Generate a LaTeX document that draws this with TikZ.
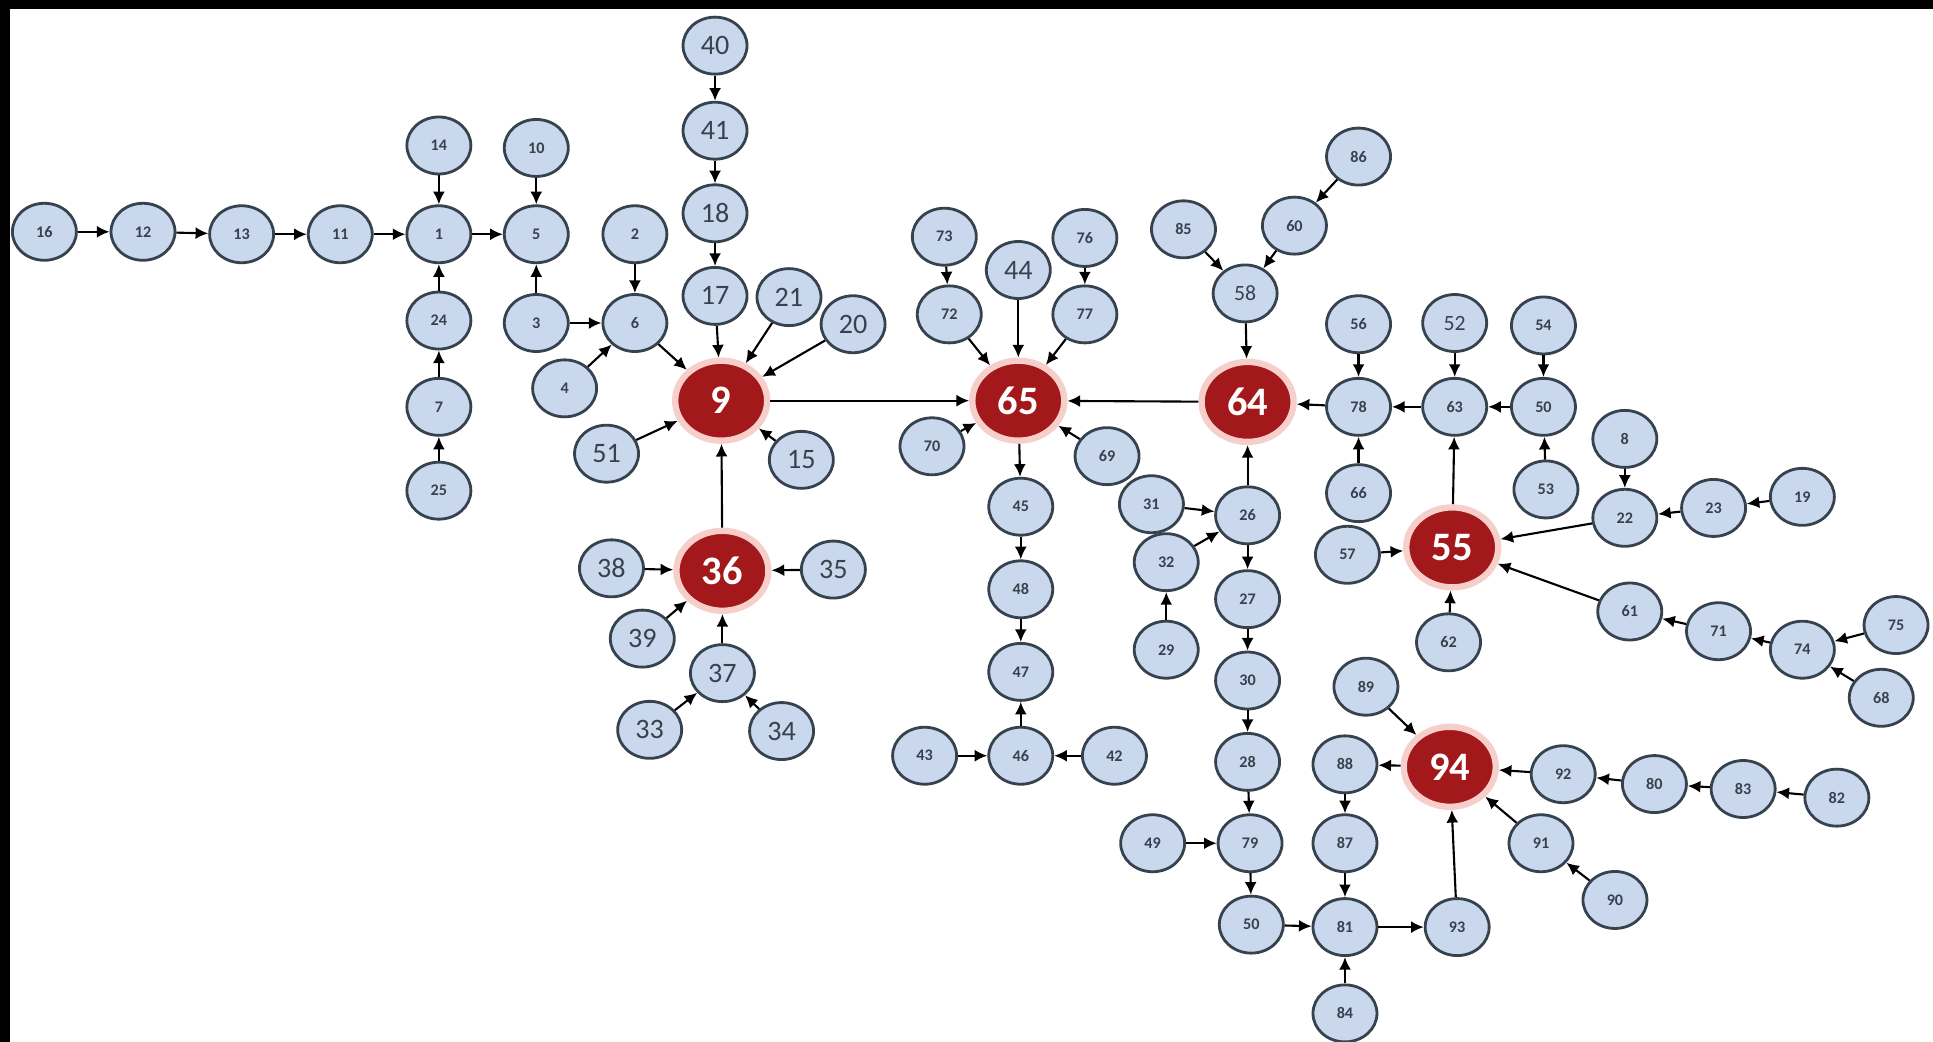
\documentclass[tikz,border=0pt]{standalone}
\usepackage{fontspec}
\setmainfont{Carlito}
\usetikzlibrary{arrows.meta,shapes.geometric}

\definecolor{nodeblue}{HTML}{C9D8EC}
\definecolor{nodeedge}{HTML}{36434F}
\definecolor{hubred}{HTML}{A3191B}
\definecolor{hubrim}{HTML}{F6CFCB}

\begin{document}
\begin{tikzpicture}[x=0.012328cm, y=-0.012328cm,
    >={Latex[length=3.6pt,width=3.4pt]},
    vtx/.style={ellipse, draw=nodeedge, fill=nodeblue, line width=0.8pt,
        minimum width=0.64cm, minimum height=0.57cm, inner sep=0pt,
        text=nodeedge, font=\fontsize{4.6}{5}\selectfont\bfseries},
    vtxbig/.style={vtx, font=\fontsize{8}{9}\selectfont},
    vtxmid/.style={vtx, font=\fontsize{6.2}{7}\selectfont},
    hub/.style={ellipse, fill=hubred, draw=hubrim, line width=1.8pt,
        minimum width=0.92cm, minimum height=0.8cm, inner sep=0pt,
        text=white, font=\fontsize{11.5}{12}\selectfont\bfseries},
    link/.style={->, line width=0.6pt}]
    \useasboundingbox (0,0) rectangle (1568,845);
    \fill (0,0) rectangle (1568,7.5);
    \fill (0,0) rectangle (8,845);

    % left branch
    \node[vtx] (n16) at (36,188) {16};
    \node[vtx] (n12) at (116,188) {12};
    \node[vtx] (n13) at (196,190) {13};
    \node[vtx] (n11) at (276,190) {11};
    \node[vtx] (n1) at (356,190) {1};
    \node[vtx] (n14) at (356,118) {14};
    \node[vtx] (n24) at (356,260) {24};
    \node[vtx] (n7) at (356,330) {7};
    \node[vtx] (n25) at (356,398) {25};
    \node[vtx] (n5) at (435,190) {5};
    \node[vtx] (n10) at (435,120) {10};
    \node[vtx] (n3) at (435,262) {3};
    \node[vtx] (n2) at (515,190) {2};
    \node[vtx] (n6) at (515,262) {6};
    \node[vtx] (n4) at (458,315) {4};
    \node[vtxbig] (n51) at (492,368) {51};

    % hub 9 and hub 36
    \node[hub] (n9) at (585,325) {9};
    \node[vtxbig] (n40) at (580,37) {40};
    \node[vtxbig] (n41) at (580,106) {41};
    \node[vtxbig] (n18) at (580,173) {18};
    \node[vtxbig] (n17) at (580,240) {17};
    \node[vtxbig] (n21) at (640,241) {21};
    \node[vtxbig] (n20) at (692,263) {20};
    \node[vtxbig] (n15) at (650,373) {15};
    \node[hub] (n36) at (586,463) {36};
    \node[vtxbig] (n38) at (496,461) {38};
    \node[vtxbig] (n35) at (676,462) {35};
    \node[vtxbig] (n39) at (521,518) {39};
    \node[vtxbig] (n37) at (586,546) {37};
    \node[vtxbig] (n33) at (527,592) {33};
    \node[vtxbig] (n34) at (634,593) {34};

    % hub 65
    \node[hub] (n65) at (826,325) {65};
    \node[vtx] (n73) at (766,192) {73};
    \node[vtx] (n72) at (770,255) {72};
    \node[vtxbig] (n44) at (826,219) {44};
    \node[vtx] (n76) at (880,193) {76};
    \node[vtx] (n77) at (880,255) {77};
    \node[vtx] (n70) at (756,362) {70};
    \node[vtx] (n69) at (898,370) {69};
    \node[vtx] (n45) at (828,411) {45};
    \node[vtx] (n48) at (828,478) {48};
    \node[vtx] (n47) at (828,545) {47};
    \node[vtx] (n46) at (828,613) {46};
    \node[vtx] (n43) at (750,613) {43};
    \node[vtx] (n42) at (904,613) {42};

    % hub 64
    \node[hub] (n64) at (1012,326) {64};
    \node[vtxmid] (n58) at (1010,238) {58};
    \node[vtx] (n85) at (960,186) {85};
    \node[vtx] (n60) at (1050,183) {60};
    \node[vtx] (n86) at (1102,127) {86};
    \node[vtx] (n26) at (1012,418) {26};
    \node[vtx] (n31) at (934,409) {31};
    \node[vtx] (n32) at (946,456) {32};
    \node[vtx] (n29) at (946,527) {29};
    \node[vtx] (n27) at (1012,486) {27};
    \node[vtx] (n30) at (1012,552) {30};
    \node[vtx] (n28) at (1012,618) {28};
    \node[vtx] (n79) at (1014,684) {79};
    \node[vtx] (n49) at (935,684) {49};
    \node[vtx] (n50b) at (1015,750) {50};
    \node[vtx] (n81) at (1091,752) {81};
    \node[vtx] (n84) at (1091,822) {84};
    \node[vtx] (n93) at (1182,752) {93};
    \node[vtx] (n87) at (1091,684) {87};
    \node[vtx] (n88) at (1091,620) {88};
    \node[vtx] (n78) at (1102,330) {78};
    \node[vtx] (n56) at (1102,263) {56};
    \node[vtx] (n66) at (1102,400) {66};
    \node[vtx] (n63) at (1180,330) {63};
    \node[vtxmid] (n52) at (1180,262) {52};
    \node[vtx] (n50a) at (1252,330) {50};
    \node[vtx] (n54) at (1252,264) {54};
    \node[vtx] (n53) at (1254,397) {53};

    % hub 55
    \node[hub] (n55) at (1178,444) {55};
    \node[vtx] (n57) at (1093,450) {57};
    \node[vtx] (n62) at (1175,521) {62};
    \node[vtx] (n8) at (1318,356) {8};
    \node[vtx] (n22) at (1318,420) {22};
    \node[vtx] (n23) at (1390,412) {23};
    \node[vtx] (n19) at (1462,403) {19};
    \node[vtx] (n61) at (1322,496) {61};
    \node[vtx] (n71) at (1394,512) {71};
    \node[vtx] (n74) at (1462,527) {74};
    \node[vtx] (n75) at (1538,507) {75};
    \node[vtx] (n68) at (1526,566) {68};

    % hub 94
    \node[hub] (n94) at (1176,622) {94};
    \node[vtx] (n89) at (1108,557) {89};
    \node[vtx] (n92) at (1268,628) {92};
    \node[vtx] (n80) at (1342,636) {80};
    \node[vtx] (n83) at (1414,640) {83};
    \node[vtx] (n82) at (1490,647) {82};
    \node[vtx] (n91) at (1250,684) {91};
    \node[vtx] (n90) at (1310,730) {90};

    \foreach \a/\b in {16/12, 12/13, 13/11, 11/1, 14/1, 24/1, 7/24, 25/7, 1/5,
        10/5, 3/5, 3/6, 2/6, 4/6, 6/9, 17/9, 21/9, 20/9, 51/9, 15/9, 36/9,
        40/41, 41/18, 18/17, 38/36, 35/36, 39/36, 37/36, 33/37, 34/37,
        9/65, 64/65, 72/65, 73/72, 44/65, 76/77, 77/65, 70/65, 69/65, 65/45,
        45/48, 48/47, 46/47, 43/46, 42/46, 58/64, 85/58, 60/58, 86/60,
        78/64, 56/78, 66/78, 63/78, 52/63, 55/63, 50a/63, 54/50a, 53/50a,
        26/64, 31/26, 32/26, 29/32, 26/27, 27/30, 30/28, 28/79, 49/79,
        79/50b, 50b/81, 81/93, 93/94, 84/81, 87/81, 88/87, 94/88, 89/94,
        92/94, 80/92, 83/80, 82/83, 91/94, 90/91, 57/55, 62/55, 22/55,
        61/55, 8/22, 23/22, 19/23, 71/61, 74/71, 75/74, 68/74}
        \draw[link] (n\a) -- (n\b);
\end{tikzpicture}
\end{document}
